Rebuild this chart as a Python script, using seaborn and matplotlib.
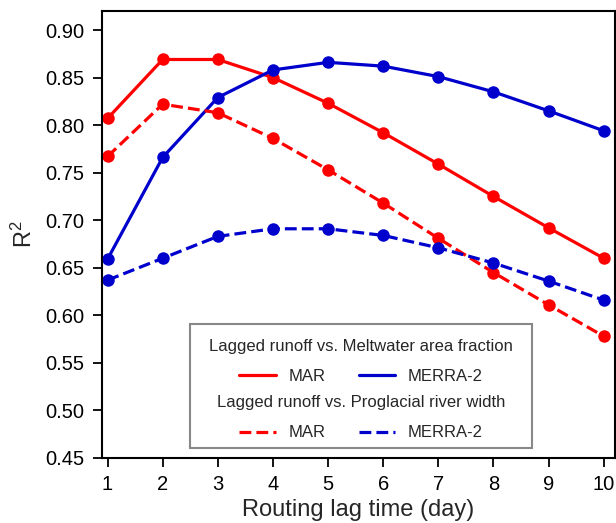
import numpy as np
import pandas as pd
import matplotlib
matplotlib.use("Agg")
import matplotlib.pyplot as plt
from matplotlib.lines import Line2D
from matplotlib.patches import Rectangle
import seaborn as sns

sns.set_style("ticks")
plt.rcParams["font.family"] = ["Liberation Sans", "DejaVu Sans"]
plt.rcParams["mathtext.fontset"] = "custom"
plt.rcParams["mathtext.rm"] = "Liberation Sans"
plt.rcParams["mathtext.default"] = "regular"

lag = [1, 2, 3, 4, 5, 6, 7, 8, 9, 10]
mar_area = [0.807, 0.869, 0.869, 0.850, 0.823, 0.792, 0.759, 0.725, 0.692, 0.660]
merra_area = [0.659, 0.766, 0.829, 0.858, 0.866, 0.862, 0.851, 0.835, 0.815, 0.794]
mar_width = [0.767, 0.822, 0.813, 0.786, 0.753, 0.718, 0.681, 0.645, 0.611, 0.578]
merra_width = [0.637, 0.660, 0.683, 0.691, 0.691, 0.684, 0.671, 0.655, 0.636, 0.616]

red = "#ff0000"
blue = "#0000cc"
series = [
    (mar_area, red, "-"),
    (merra_area, blue, "-"),
    (mar_width, red, "--"),
    (merra_width, blue, "--"),
]

fig = plt.figure(figsize=(6.16, 5.23), dpi=100)
ax = fig.add_axes([0.1656, 0.1243, 0.8324, 0.8547])

for vals, c, ls in series:
    sns.lineplot(x=lag, y=vals, color=c, linestyle=ls, lw=2.3, marker="o",
                 markersize=9, markeredgewidth=0, ax=ax)

ax.set_xlim(0.9, 10.2)
ax.set_ylim(0.45, 0.92)
ax.set_xticks(lag)
ax.set_yticks(np.arange(0.45, 0.901, 0.05))
ax.yaxis.set_major_formatter(matplotlib.ticker.FormatStrFormatter("%.2f"))
ax.tick_params(direction="out", length=6.5, width=1.3, pad=6, labelsize=14.5, colors="black")
for s in ax.spines.values():
    s.set_visible(True)
    s.set_linewidth(1.5)
    s.set_color("black")

ax.set_xlabel("Routing lag time (day)", fontsize=17, labelpad=3)
ax.set_ylabel("R$^2$", fontsize=17, labelpad=6)

# legend frame + two sub-legends
ax.add_patch(Rectangle((0.1715, 0.0224), 0.6665, 0.2776, transform=ax.transAxes,
                       facecolor="white", edgecolor="#888888", lw=1.5, zorder=4))

leg_kw = dict(ncol=2, frameon=False, fontsize=12, title_fontsize=12, loc="center",
              handlelength=2.2, handletextpad=0.75, columnspacing=2.0, borderpad=0.2,
              labelspacing=0.9)
h1 = [Line2D([], [], color=red, lw=2.3, ls="-"), Line2D([], [], color=blue, lw=2.3, ls="-")]
h2 = [Line2D([], [], color=red, lw=2.3, ls="--"), Line2D([], [], color=blue, lw=2.3, ls="--")]
leg1 = ax.legend(h1, ["MAR", "MERRA-2"], title="Lagged runoff vs. Meltwater area fraction",
                 bbox_to_anchor=(0.505, 0.216), **leg_kw)
leg1.set_zorder(5)
ax.add_artist(leg1)
leg2 = ax.legend(h2, ["MAR", "MERRA-2"], title="Lagged runoff vs. Proglacial river width",
                 bbox_to_anchor=(0.505, 0.0895), **leg_kw)
leg2.set_zorder(5)

fig.savefig("out.png", dpi=100)
